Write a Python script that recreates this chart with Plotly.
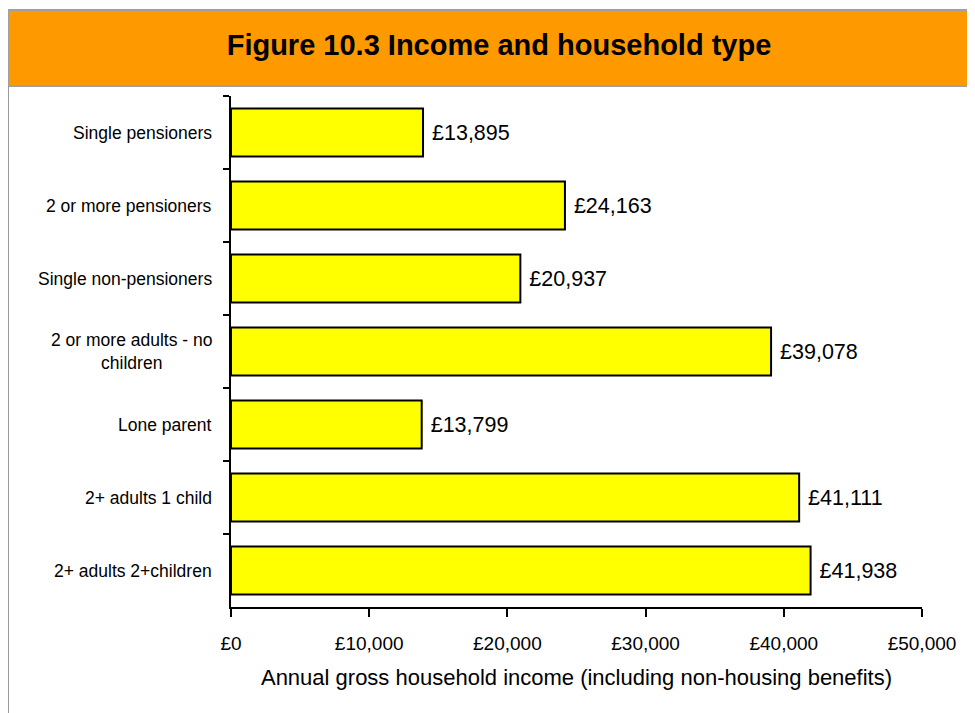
import plotly.graph_objects as go

categories = [
    "Single pensioners",
    "2 or more pensioners",
    "Single non-pensioners",
    "2 or more adults - no<br>children",
    "Lone parent",
    "2+ adults 1 child",
    "2+ adults 2+children",
]
incomes = [13895, 24163, 20937, 39078, 13799, 41111, 41938]
x_ticks = [0, 10000, 20000, 30000, 40000, 50000]

title_text = "Figure 10.3 Income and household type"
x_title = "Annual gross household income (including non-housing benefits)"

FONT = "Liberation Sans, Arial, sans-serif"

# the page body has an 8px margin, so work in page pixels and shift
OFF = 8
W, H = 975 - OFF, 713 - OFF
plot_left, plot_right, plot_top, plot_bottom = 231, 922, 96, 607
L, T = plot_left - OFF, plot_top - OFF
R, B = W - (plot_right - OFF), H - (plot_bottom - OFF)
pw, ph = plot_right - plot_left, plot_bottom - plot_top


def px_x(px):
    return (px - plot_left) / pw


def px_y(py):
    return (plot_bottom - py) / ph


fig = go.Figure(go.Bar(
    x=incomes,
    y=categories,
    orientation="h",
    marker=dict(color="#FFFF00", line=dict(color="black", width=2)),
    texttemplate=" £%{x:,.0f}",
    textposition="outside",
    textfont=dict(family=FONT, size=21.5, color="black"),
    cliponaxis=False,
    hoverinfo="skip",
))

# category labels (lines centred like the original)
annotations = []
for cat in categories:
    annotations.append(dict(
        x=px_x(214), xref="paper", y=cat, yref="y",
        text=cat, showarrow=False, xanchor="right", align="center",
        font=dict(family=FONT, size=17.5, color="black"),
    ))

# header band and frame
shapes = [
    dict(type="rect", xref="paper", yref="paper",
         x0=px_x(8), x1=px_x(990), y0=px_y(86), y1=px_y(10),
         fillcolor="#FF9900", line=dict(color="#A0A0A0", width=2), layer="below"),
    dict(type="line", xref="paper", yref="paper",
         x0=px_x(8), x1=px_x(8), y0=px_y(86), y1=px_y(730),
         line=dict(color="#999999", width=2)),
]

fig.update_layout(
    width=W, height=H,
    margin=dict(l=L, r=R, t=T, b=B),
    paper_bgcolor="white", plot_bgcolor="white",
    showlegend=False,
    bargap=0.34,
    title=dict(text="<b>" + title_text + "</b>", x=(499 - OFF) / W, xanchor="center",
               y=1 - (45 - OFF) / H, yanchor="middle",
               font=dict(family=FONT, size=29, color="black")),
    shapes=shapes,
    annotations=annotations,
)

fig.update_xaxes(
    range=[0, 50000], tickvals=x_ticks, ticktext=[f"£{v:,}" for v in x_ticks],
    showline=True, linecolor="black", linewidth=2,
    ticks="outside", ticklen=8, tickwidth=2, tickcolor="black",
    ticklabelstandoff=10,
    showgrid=False, zeroline=False,
    tickfont=dict(family=FONT, size=19, color="black"),
    title=dict(text=x_title, font=dict(family=FONT, size=22, color="black"), standoff=17),
)
fig.update_yaxes(
    type="category", autorange="reversed",
    showline=True, linecolor="black", linewidth=2,
    ticks="outside", tickson="boundaries", ticklen=6, tickwidth=2, tickcolor="black",
    showticklabels=False, showgrid=False,
)

fig.write_html("out.html")
